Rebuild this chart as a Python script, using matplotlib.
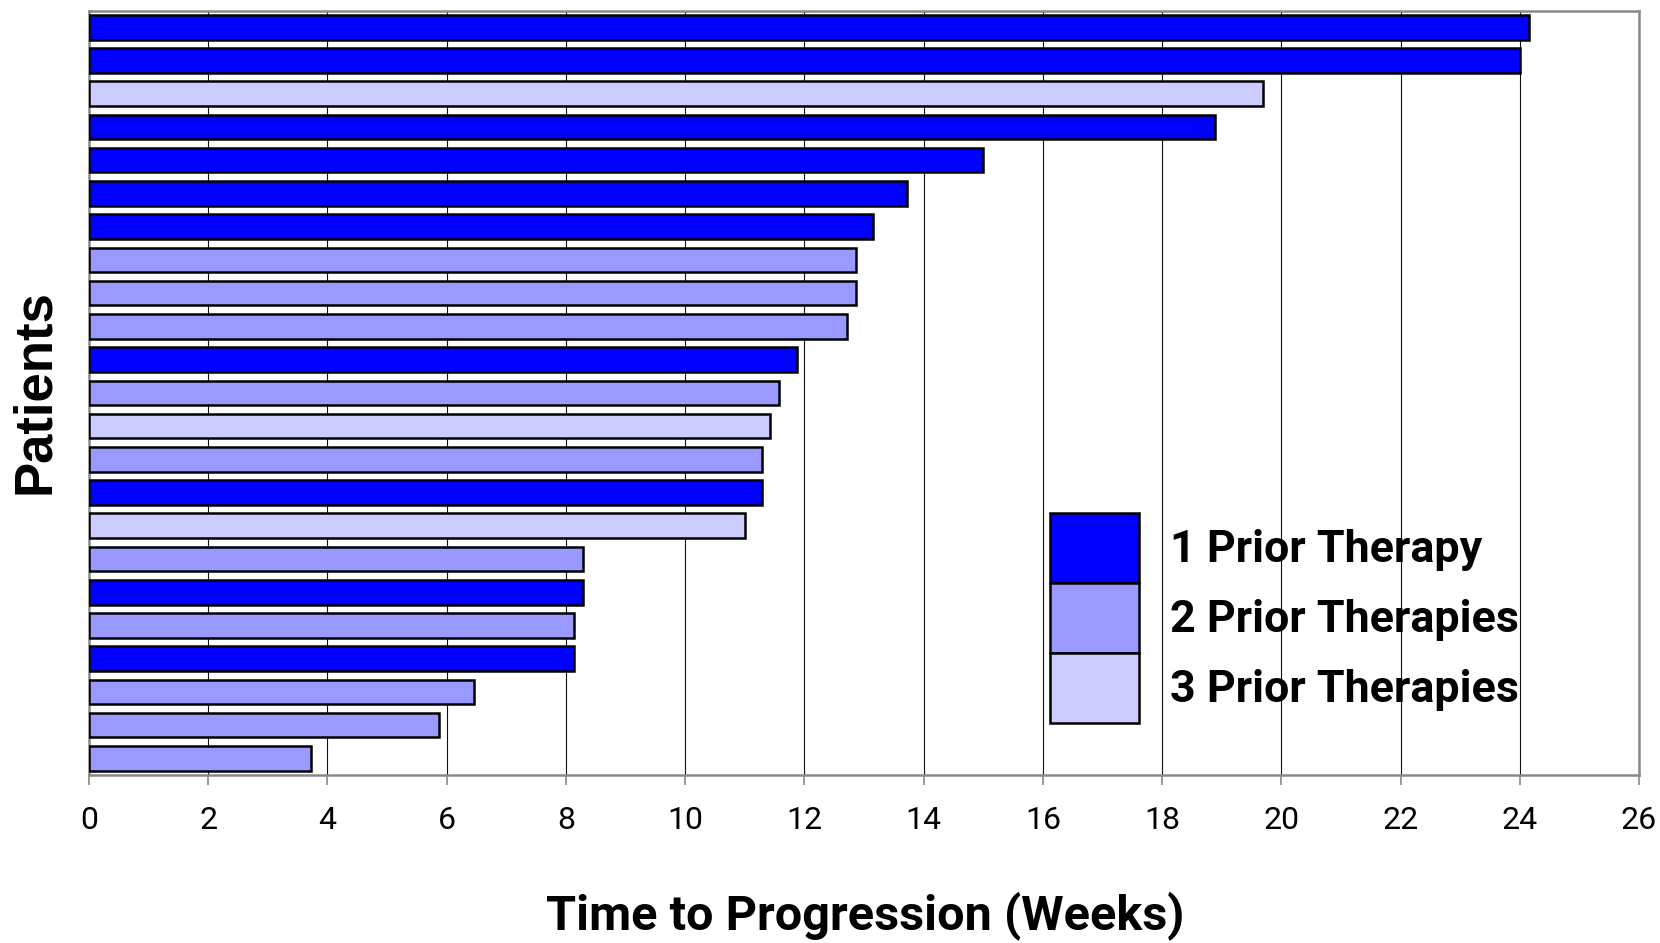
import matplotlib
matplotlib.use("Agg")
import matplotlib.pyplot as plt
from matplotlib.patches import Patch

# ---- data (top bar first) ----
weeks = [24.15, 24.0, 19.7, 18.88, 15.0, 13.72, 13.15, 12.87, 12.87, 12.72,
         11.87, 11.58, 11.43, 11.29, 11.29, 11.0, 8.28, 8.28, 8.14, 8.14,
         6.45, 5.87, 3.73]
prior = [1, 1, 3, 1, 1, 1, 1, 2, 2, 2,
         1, 2, 3, 2, 1, 3, 2, 1, 2, 1,
         2, 2, 2]
group_labels = ["1 Prior Therapy", "2 Prior Therapies", "3 Prior Therapies"]
group_colors = {1: "#0000FF", 2: "#9999FF", 3: "#CCCCFF"}
xticks = list(range(0, 27, 2))

narrow = ["Roboto", "DejaVu Sans"]
regular = ["Liberation Sans", "DejaVu Sans"]

W, H = 1660, 943
fig = plt.figure(figsize=(W / 100, H / 100), dpi=100)
ax = fig.add_axes([89 / W, 1 - 775 / H, (1639 - 89) / W, (775 - 10.6) / H])

ypos = list(range(len(weeks)))
ax.barh(ypos, weeks, height=0.74,
        color=[group_colors[p] for p in prior],
        edgecolor="black", linewidth=1.8, zorder=3)

ax.set_xlim(0, 26)
ax.set_ylim(len(weeks) - 0.5, -0.5)
ax.set_xticks(xticks)
ax.set_xticklabels([str(t) for t in xticks], fontfamily=narrow, fontsize=23)
ax.set_yticks([])
ax.grid(axis="x", color="#111111", linewidth=0.8, zorder=0)
ax.set_axisbelow(True)
for s in ax.spines.values():
    s.set_color("#888888")
    s.set_linewidth(1.8)
ax.tick_params(axis="x", direction="out", length=7, width=1.2, color="#888888", pad=15)

# legend
fs = 32.3
fs_px = fs * 100 / 72
hh = (70 / fs_px - 0.245) / 0.65
handles = [Patch(facecolor=group_colors[k], edgecolor="black", linewidth=1.8)
           for k in (1, 2, 3)]
fig.legend(handles, group_labels, loc="upper left",
           bbox_to_anchor=(1050 / W, 1 - 513 / H),
           frameon=False, borderpad=0, borderaxespad=0,
           labelspacing=0, handlelength=89 / fs_px,
           handleheight=hh, handletextpad=0.68,
           prop={"family": narrow, "weight": "bold", "size": fs})

fig.text(865 / W, 1 - 916 / H, "Time to Progression (Weeks)",
         ha="center", va="center", fontfamily=narrow, fontweight="bold", fontsize=35)
fig.text(35 / W, 1 - 392 / H, "Patients", rotation=90,
         ha="center", va="center", fontfamily=regular, fontweight="bold", fontsize=38)

fig.savefig("out.png", dpi=100)
